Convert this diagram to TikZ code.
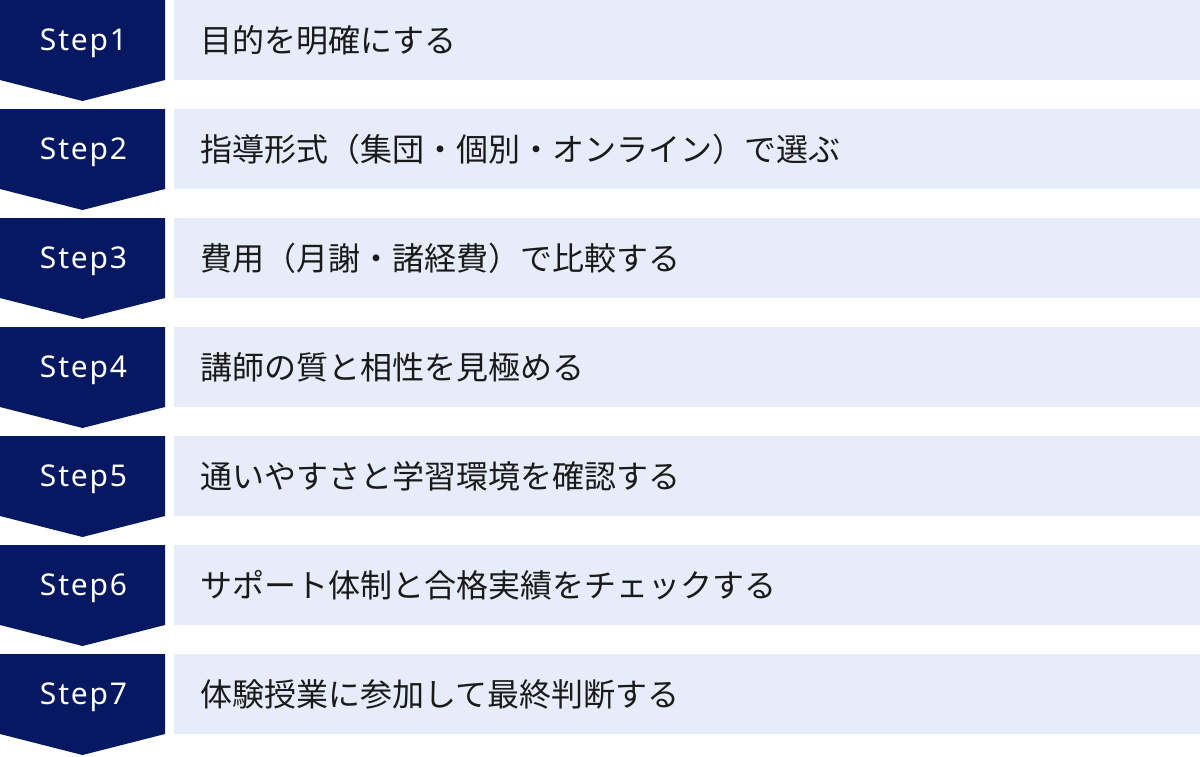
\documentclass[tikz,border=0pt]{standalone}
\usepackage{fontspec}
\setmainfont{Noto Sans CJK JP}
\newfontfamily\latinfont[LetterSpace=6]{Noto Sans}
\definecolor{navy}{RGB}{6,24,98}
\definecolor{pale}{RGB}{230,236,249}
\definecolor{ink}{RGB}{26,26,26}
\begin{document}
\begin{tikzpicture}[
x=1pt,
y=-1pt,
every node/.style={inner sep=0pt}
]

\tikzstyle{arrowbox} = [fill=navy]
\tikzstyle{steplbl} = [text=white, font=\latinfont\fontsize{30}{36}\selectfont]
\tikzstyle{bar} = [fill=pale, text=ink, anchor=north west, minimum width=1026pt, minimum height=80pt,
	text width=974pt, align=left, font=\fontsize{32}{38}\selectfont]

\useasboundingbox (0,0) rectangle (1200,756);

% step 1
\fill[arrowbox] (0,0) -- (165,0) -- (165,80) -- (82.5,101) -- (0,80) -- cycle;
\node[steplbl] (s1) at (83.5,43) {Step1};
\node[bar] (b1) at (174,0) {目的を明確にする};

% step 2
\fill[arrowbox] (0,109) -- (165,109) -- (165,189) -- (82.5,210) -- (0,189) -- cycle;
\node[steplbl] (s2) at (83.5,152) {Step2};
\node[bar] (b2) at (174,109) {指導形式（集団・個別・オンライン）で選ぶ};

% step 3
\fill[arrowbox] (0,218) -- (165,218) -- (165,298) -- (82.5,319) -- (0,298) -- cycle;
\node[steplbl] (s3) at (83.5,261) {Step3};
\node[bar] (b3) at (174,218) {費用（月謝・諸経費）で比較する};

% step 4
\fill[arrowbox] (0,327) -- (165,327) -- (165,407) -- (82.5,428) -- (0,407) -- cycle;
\node[steplbl] (s4) at (83.5,370) {Step4};
\node[bar] (b4) at (174,327) {講師の質と相性を見極める};

% step 5
\fill[arrowbox] (0,436) -- (165,436) -- (165,516) -- (82.5,537) -- (0,516) -- cycle;
\node[steplbl] (s5) at (83.5,479) {Step5};
\node[bar] (b5) at (174,436) {通いやすさと学習環境を確認する};

% step 6
\fill[arrowbox] (0,545) -- (165,545) -- (165,625) -- (82.5,646) -- (0,625) -- cycle;
\node[steplbl] (s6) at (83.5,588) {Step6};
\node[bar] (b6) at (174,545) {サポート体制と合格実績をチェックする};

% step 7
\fill[arrowbox] (0,654) -- (165,654) -- (165,734) -- (82.5,755) -- (0,734) -- cycle;
\node[steplbl] (s7) at (83.5,697) {Step7};
\node[bar] (b7) at (174,654) {体験授業に参加して最終判断する};

\end{tikzpicture}
\end{document}
